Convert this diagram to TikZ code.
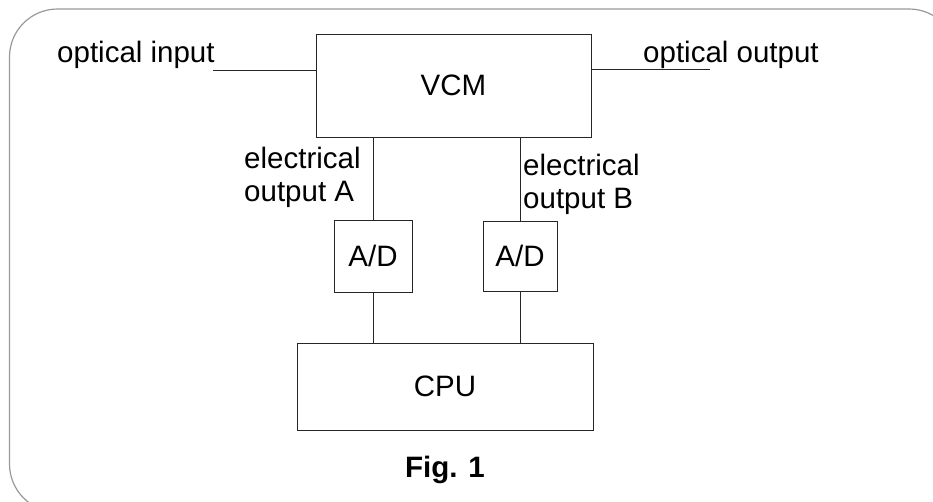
\documentclass[tikz,border=0pt]{standalone}
\usepackage{fontspec}
\setmainfont{Liberation Sans}
\usepackage{tikz}
\usetikzlibrary{positioning,calc}

\begin{document}
\begin{tikzpicture}[
    x=1pt, y=-1pt,
    font=\fontsize{29.5}{33}\selectfont,
    blk/.style={draw, black!85, line width=1pt, text=black, inner sep=0pt},
    wire/.style={black!85, line width=1pt},
    lbl/.style={inner sep=0pt, text=black},
    frame/.style={draw, gray!80, line width=1.2pt, rounded corners=48pt},
  ]
  \useasboundingbox (0,0) rectangle (933,501);
  \clip (0,0) rectangle (933,501);

  % --- outer frame (runs past the right and bottom edge) ---
  \draw[frame] (9.5,9) rectangle (957,512);

  % --- blocks ---
  \node[blk, minimum width=275pt, minimum height=103pt] (vcm) at (453.5,85.5) {VCM};
  \node[blk, minimum width=78pt, minimum height=72pt]   (adA) at (373,256) {A/D};
  \node[blk, minimum width=74pt, minimum height=70pt]   (adB) at (520,256) {A/D};
  \node[blk, minimum width=296pt, minimum height=87pt]  (cpu) at (445,386.5) {CPU};

  % --- optical side ---
  \node[lbl, anchor=base west] (optin) at (57,62) {optical input};
  \node[lbl, anchor=base west] (optout) at (643,62) {optical output};
  \coordinate (inend)  at (213,70.5);
  \coordinate (outend) at (710,69);
  \draw[wire] (inend) -- (inend -| vcm.west);
  \draw[wire] (outend -| vcm.east) -- (outend);

  % --- electrical outputs ---
  \draw[wire] (adA.north) -- (adA.north |- vcm.south);
  \draw[wire] (adB.north) -- (adB.north |- vcm.south);
  \node[lbl, align=left, anchor=north west] (elA) at (244,147)
    {electrical\\output A};
  \node[lbl, align=left, anchor=north west] (elB) at (523,154)
    {electrical\\output B};

  % --- to the CPU ---
  \draw[wire] (adA.south) -- (adA.south |- cpu.north);
  \draw[wire] (adB.south) -- (adB.south |- cpu.north);

  \node[lbl, anchor=base, font=\fontsize{29.5}{33}\selectfont\bfseries] (fig) at (445,477) {Fig. 1};
\end{tikzpicture}
\end{document}
